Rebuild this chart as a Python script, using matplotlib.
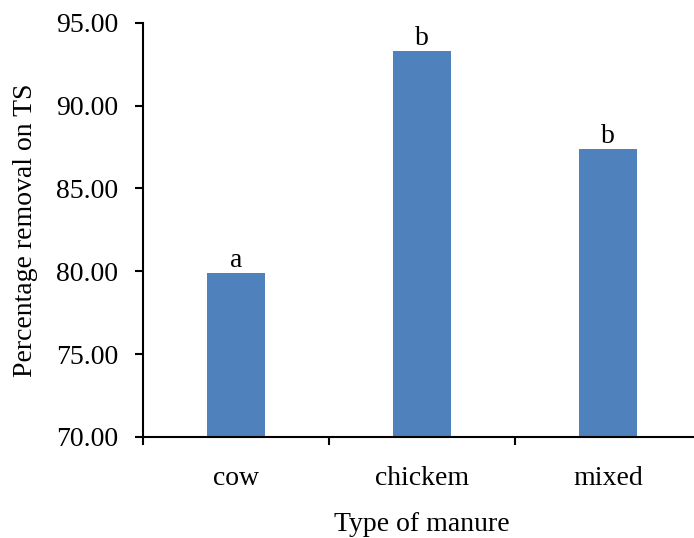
import matplotlib
matplotlib.use("Agg")
import matplotlib.pyplot as plt
import numpy as np

categories = ["cow", "chickem", "mixed"]
values = [79.9, 93.3, 87.4]
letters = ["a", "b", "b"]
yticks = [70, 75, 80, 85, 90, 95]

plt.rcParams['font.family'] = ['Liberation Serif', 'DejaVu Serif']
FS = 20

fig = plt.figure(figsize=(6.94, 5.38), dpi=100)
ax = fig.add_axes([143/694, (538-437)/538, (701-143)/694, (437-22.7)/538])

x = np.arange(len(categories))
ax.bar(x, values, width=0.31, color="#4F81BD", bottom=0)
for xi, v, l in zip(x, values, letters):
    ax.text(xi, v, l, ha="center", va="bottom", fontsize=FS)

ax.set_ylim(70, 95)
ax.set_xlim(-0.5, len(categories) - 0.5)
ax.set_yticks(yticks)
ax.set_yticklabels([f"{t:.2f}" for t in yticks], fontsize=FS)
ax.set_xticks(x)
ax.set_xticklabels(categories, fontsize=FS)
ax.set_xticks(np.arange(len(categories) + 1) - 0.5, minor=True)
ax.tick_params(axis="x", which="major", length=0, pad=21)
ax.tick_params(axis="x", which="minor", length=6, width=1.5, direction="out")
ax.tick_params(axis="y", which="major", length=6, width=1.5, direction="out", pad=12)

for s in ["top", "right"]:
    ax.spines[s].set_visible(False)
for s in ["left", "bottom"]:
    ax.spines[s].set_linewidth(1.5)

ax.set_xlabel("Type of manure", fontsize=FS, labelpad=15)
ax.set_ylabel("Percentage removal on TS", fontsize=FS, labelpad=13)

fig.savefig("out.png", dpi=100)
